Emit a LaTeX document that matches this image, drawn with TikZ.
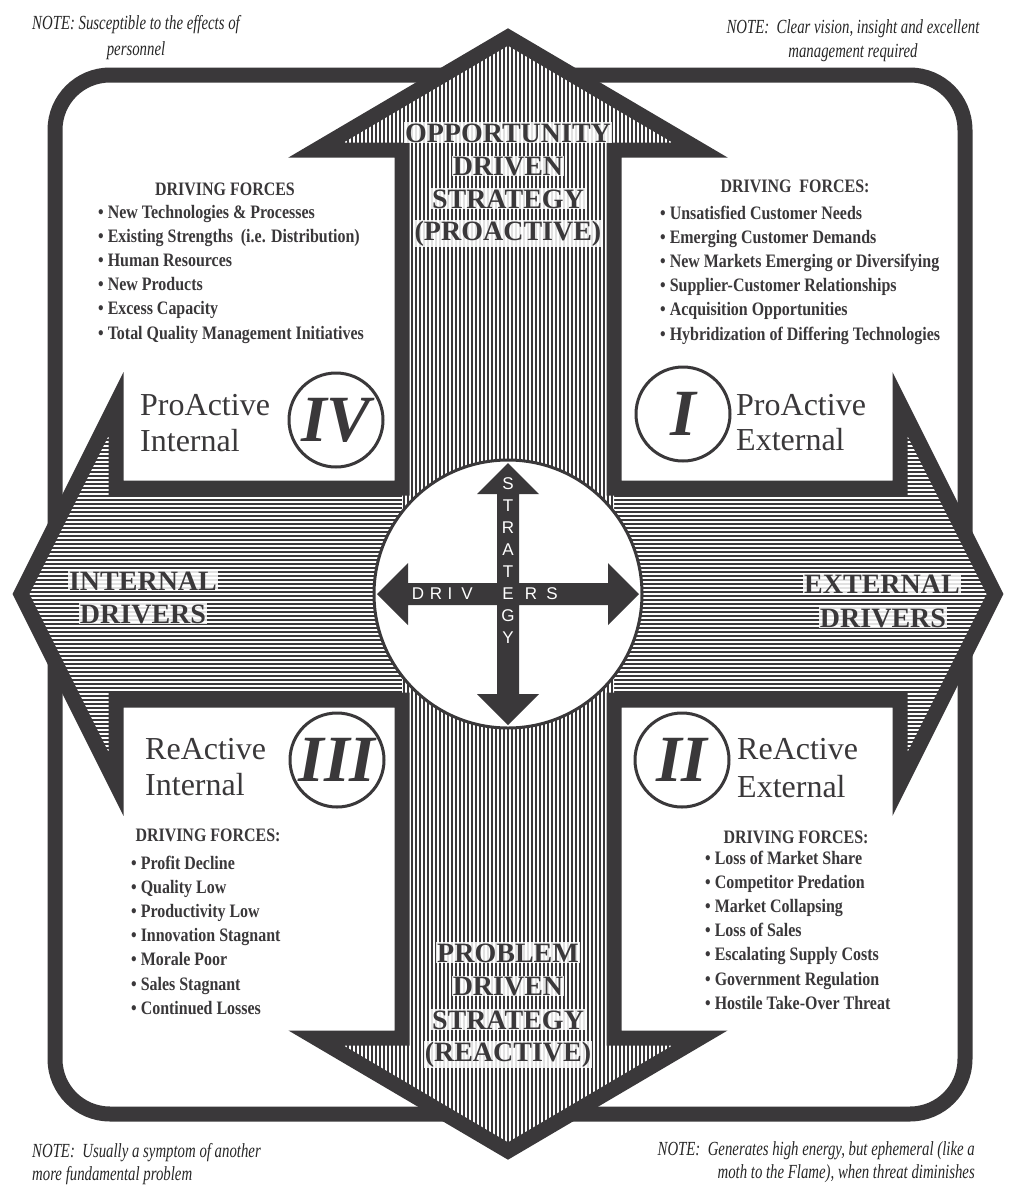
\documentclass[tikz,border=0pt]{standalone}
\usepackage{fontspec}
\setmainfont{Liberation Serif}
\setsansfont{Liberation Sans}
\newfontfamily\condfont[FakeStretch=0.84]{Liberation Serif}
\newfontfamily\notefont[FakeStretch=0.74]{Liberation Serif}
\definecolor{ink}{RGB}{58,56,58}
\tikzset{
  crosspath/.style={insert path={(508,37) -- (700,150) -- (614,150) -- (614,488) -- (900,488) -- (900,404) -- (995,594) -- (900,784) -- (900,700) -- (614,700) -- (614,1038) -- (700,1038) -- (508,1151) -- (316,1038) -- (402,1038) -- (402,700) -- (116,700) -- (116,784) -- (21,594) -- (116,404) -- (116,488) -- (402,488) -- (402,150) -- (316,150) -- cycle}},
  minicross/.style={insert path={(508,463) -- (539,494) -- (519,494) -- (519,583) -- (608,583) -- (608,563) -- (639,594) -- (608,625) -- (608,605) -- (519,605) -- (519,694) -- (539,694) -- (508,725) -- (477,694) -- (497,694) -- (497,605) -- (408,605) -- (408,625) -- (377,594) -- (408,563) -- (408,583) -- (497,583) -- (497,494) -- (477,494) -- cycle}},
  stripeline/.style={ink, line width=1.35pt},
  thickline/.style={ink, line width=15pt, line join=miter},
  arrowlbl/.style={font=\bfseries\fontsize{28}{28}\selectfont, text=ink, fill=white, fill opacity=0.85, text opacity=1, inner sep=1pt, anchor=base},
  hubletter/.style={font=\sffamily\fontsize{17}{17}\selectfont, text=white, inner sep=0pt, anchor=center},
  numcirc/.style={circle, draw=ink, line width=3pt, fill=white, minimum size=94pt, inner sep=0pt, text=ink, font=\bfseries\itshape\fontsize{66}{66}\selectfont},
  quadname/.style={font=\fontsize{32}{32}\selectfont, text=ink, anchor=base west, inner sep=0pt},
  headlbl/.style={font=\condfont\bfseries\fontsize{19}{19}\selectfont, text=ink, anchor=base, inner sep=0pt},
  itemlbl/.style={font=\condfont\bfseries\fontsize{19}{19}\selectfont, text=ink, anchor=base west, inner sep=0pt},
  notelbl/.style={font=\notefont\itshape\fontsize{20}{20}\selectfont, text=black!85, inner sep=0pt},
}
\begin{document}
\begin{tikzpicture}[x=1pt,y=-1pt]
\useasboundingbox (0,0) rectangle (1029,1203);
\fill[white] (0,0) rectangle (1029,1203);
% outer frame
\draw[thickline, fill=white, rounded corners=55pt] (55,75) rectangle (965,1114);
% striped cross arrows
\begin{scope}
  \clip[crosspath];
  \fill[white] (0,0) rectangle (1029,1203);
  \foreach \yy in {372,376,...,816} \draw[stripeline] (0,\yy) -- (1029,\yy);
  \begin{scope}
    \clip (250,0) rectangle (770,488) (402,488) rectangle (614,700) (250,700) rectangle (770,1203);
    \fill[white] (0,0) rectangle (1029,1203);
    \foreach \xx in {300,304,...,716} \draw[stripeline] (\xx,0) -- (\xx,1203);
  \end{scope}
\end{scope}
\draw[thickline, crosspath];
% hub
\node[circle, draw=ink, line width=3pt, fill=white, minimum size=268pt, inner sep=0pt] (hub) at (508,594) {};
\fill[ink, minicross];
\foreach \ch/\yy [count=\i] in {S/484,T/506,R/528,A/550,T/572,E/594,G/616,Y/638}
  \node[hubletter] (v\i) at (508,\yy) {\ch};
\foreach \ch/\xx [count=\i] in {D/418,R/436,I/450,V/467,R/531,S/552}
  \node[hubletter] (h\i) at (\xx,594) {\ch};
% arrow labels
\node[arrowlbl] (o1) at (508,142) {OPPORTUNITY};
\node[arrowlbl] (o2) at (508,175) {DRIVEN};
\node[arrowlbl] (o3) at (508,208) {STRATEGY};
\node[arrowlbl] (o4) at (508,240) {(PROACTIVE)};
\node[arrowlbl] (p1) at (508,962) {PROBLEM};
\node[arrowlbl] (p2) at (508,995) {DRIVEN};
\node[arrowlbl] (p3) at (508,1029) {STRATEGY};
\node[arrowlbl] (p4) at (508,1061) {(REACTIVE)};
\node[arrowlbl] (i1) at (143,590) {INTERNAL};
\node[arrowlbl] (i2) at (143,623) {DRIVERS};
\node[arrowlbl] (e1) at (882,593) {EXTERNAL};
\node[arrowlbl] (e2) at (883,627) {DRIVERS};
% quadrant numerals
\node[numcirc] (q4) at (336,420) {IV};
\node[numcirc] (q1) at (683,414) {I};
\node[numcirc] (q3) at (337,760) {III};
\node[numcirc] (q2) at (682,760) {II};
\node[quadname] (n4a) at (140,415) {ProActive};
\node[quadname] (n4b) at (140,451) {Internal};
\node[quadname] (n1a) at (736,415) {ProActive};
\node[quadname] (n1b) at (736,450) {External};
\node[quadname] (n3a) at (145,759) {ReActive};
\node[quadname] (n3b) at (145,795) {Internal};
\node[quadname] (n2a) at (737,759) {ReActive};
\node[quadname] (n2b) at (737,797) {External};
% driving forces lists
\node[headlbl] (d4) at (225,195) {DRIVING FORCES};
\foreach \t [count=\i] in {New Technologies \& Processes, {Existing Strengths\ \ (i.e. Distribution)}, Human Resources, New Products, Excess Capacity, Total Quality Management Initiatives}
  \node[itemlbl] (l4\i) at (98,{218+(\i-1)*24.2}) {\textbullet\ \t};
\node[headlbl] (d1) at (795,192) {DRIVING\ \ FORCES:};
\foreach \t [count=\i] in {Unsatisfied Customer Needs, Emerging Customer Demands, New Markets Emerging or Diversifying, Supplier-Customer Relationships, Acquisition Opportunities, Hybridization of Differing Technologies}
  \node[itemlbl] (l1\i) at (660,{219+(\i-1)*24.2}) {\textbullet\ \t};
\node[headlbl] (d3) at (208,841) {DRIVING FORCES:};
\foreach \t [count=\i] in {Profit Decline, Quality Low, Productivity Low, Innovation Stagnant, Morale Poor, Sales Stagnant, Continued Losses}
  \node[itemlbl] (l3\i) at (131,{869+(\i-1)*24.2}) {\textbullet\ \t};
\node[headlbl] (d2) at (796,843) {DRIVING FORCES:};
\foreach \t [count=\i] in {Loss of Market Share, Competitor Predation, Market Collapsing, Loss of Sales, Escalating Supply Costs, Government Regulation, Hostile Take-Over Threat}
  \node[itemlbl] (l2\i) at (705,{864+(\i-1)*24.2}) {\textbullet\ \t};
% notes
\node[notelbl, anchor=base] (t1a) at (136,29) {NOTE: Susceptible to the effects of};
\node[notelbl, anchor=base] (t1b) at (136,55) {personnel};
\node[notelbl, anchor=base] (t2a) at (853,33) {NOTE:\ \ Clear vision, insight and excellent};
\node[notelbl, anchor=base] (t2b) at (853,57) {management required};
\node[notelbl, anchor=base west] (t3a) at (32,1157) {NOTE:\ \ Usually a symptom of another};
\node[notelbl, anchor=base west] (t3b) at (32,1180) {more fundamental problem};
\node[notelbl, anchor=base east] (t4a) at (975,1155) {NOTE:\ \ Generates high energy, but ephemeral (like a};
\node[notelbl, anchor=base east] (t4b) at (975,1178) {moth to the Flame), when threat diminishes};
\end{tikzpicture}
\end{document}
